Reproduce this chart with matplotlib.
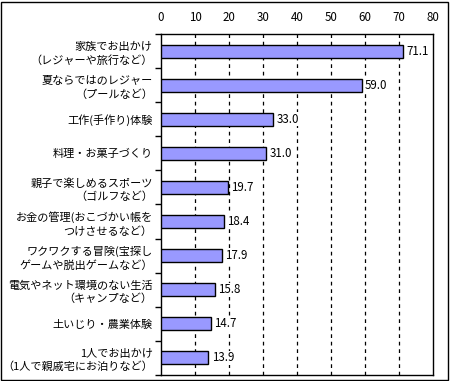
import matplotlib
matplotlib.use("Agg")
import matplotlib.pyplot as plt
from matplotlib.patches import Rectangle

plt.rcParams['font.family'] = ['Noto Sans CJK JP', 'DejaVu Sans']

categories = [
    "家族でお出かけ\n（レジャーや旅行など）",
    "夏ならではのレジャー\n（プールなど）",
    "工作(手作り)体験",
    "料理・お菓子づくり",
    "親子で楽しめるスポーツ\n（ゴルフなど）",
    "お金の管理(おこづかい帳を\nつけさせるなど）",
    "ワクワクする冒険(宝探し\nゲームや脱出ゲームなど）",
    "電気やネット環境のない生活\n（キャンプなど）",
    "土いじり・農業体験",
    "1人でお出かけ\n（1人で親戚宅にお泊りなど）",
]
values = [71.1, 59.0, 33.0, 31.0, 19.7, 18.4, 17.9, 15.8, 14.7, 13.9]
xticks = [0, 10, 20, 30, 40, 50, 60, 70, 80]

fig = plt.figure(figsize=(4.5, 3.81), dpi=100)
ax = fig.add_axes([161/450, 1 - 375/381, (433-161)/450, (375-34)/381])

n = len(values)
ypos = list(range(n))
ax.barh(ypos, values, height=0.38, color='#9999FF', edgecolor='black', linewidth=1.0, zorder=3)
for y, v in zip(ypos, values):
    ax.text(v + 1.0, y, f"{v:.1f}", va='center', ha='left', fontsize=8.3, zorder=4,
            bbox=dict(facecolor='white', edgecolor='none', pad=0.5))

ax.set_xlim(0, 80)
ax.set_ylim(n - 0.5, -0.5)
ax.set_xticks(xticks)
ax.xaxis.tick_top()
ax.tick_params(axis='x', length=0, pad=7, labelsize=8.3)
for x in xticks[1:-1]:
    ax.axvline(x, color='black', linestyle=(0, (3, 3)), linewidth=0.9, zorder=1)

ax.set_yticks([i - 0.5 for i in range(n + 1)], minor=False)
ax.set_yticklabels([])
ax.set_yticks(ypos, minor=True)
ax.set_yticklabels(categories, minor=True, fontsize=8, linespacing=1.35)
ax.tick_params(axis='y', which='major', length=4, width=1, direction='out')
ax.tick_params(axis='y', which='minor', length=0, pad=6)
for lab in ax.get_yticklabels(minor=True):
    lab.set_multialignment('right')

for s in ax.spines.values():
    s.set_linewidth(1.0)

fig.patches.append(Rectangle((1/450, 1/381), 447/450, 378/381, transform=fig.transFigure,
                             fill=False, edgecolor='black', linewidth=1.0))

fig.savefig("out.png", dpi=100)
